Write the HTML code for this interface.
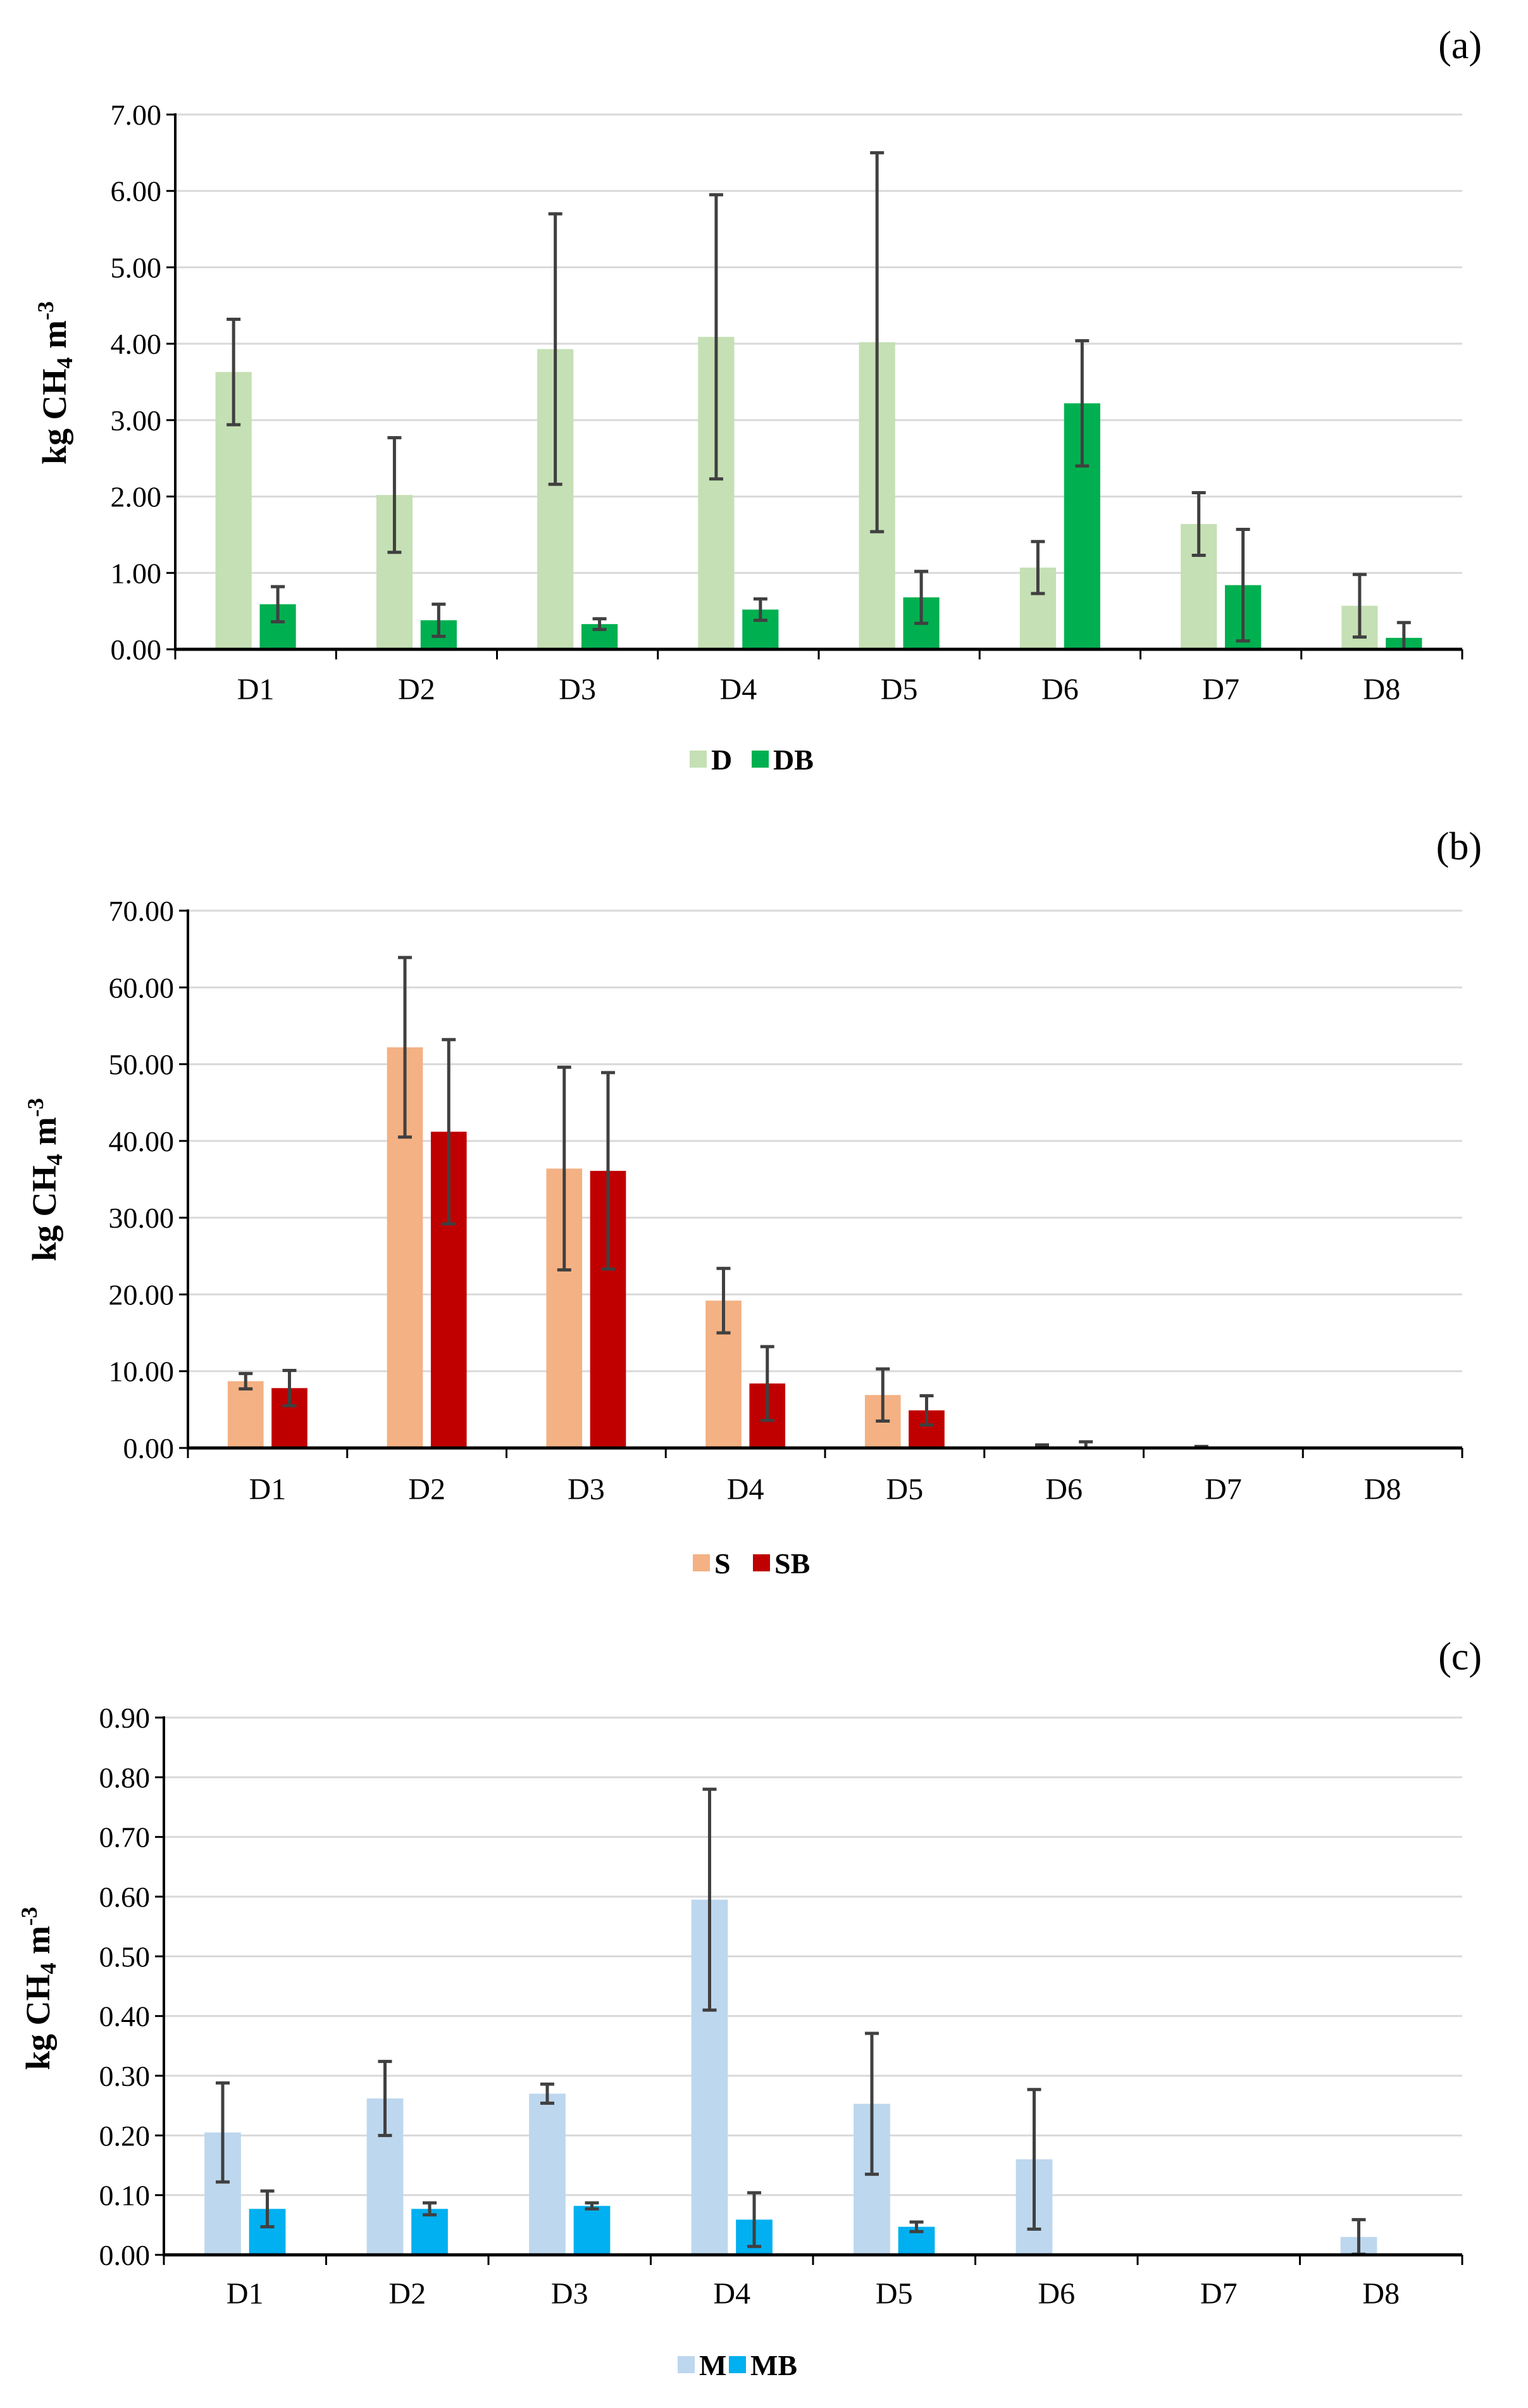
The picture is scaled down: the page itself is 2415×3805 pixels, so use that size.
<!DOCTYPE html>
<html><head><meta charset="utf-8"><style>
html,body{margin:0;padding:0;background:#fff}
svg{display:block}
text{font-family:"Liberation Serif","Times New Roman",serif;fill:#000}
</style></head><body>
<svg id="s" width="2415" height="3805" viewBox="0 0 2415 3805"></svg>
<script>
const categories=["D1","D2","D3","D4","D5","D6","D7","D8"];
const aTicks=["0.00","1.00","2.00","3.00","4.00","5.00","6.00","7.00"];
const aD=[3.63,2.02,3.93,4.09,4.02,1.07,1.64,0.57];
const aDErr=[0.69,0.75,1.77,1.86,2.48,0.34,0.41,0.41];
const aDB=[0.59,0.38,0.33,0.52,0.68,3.22,0.84,0.15];
const aDBErr=[0.23,0.21,0.07,0.14,0.34,0.82,0.73,0.20];
const bTicks=["0.00","10.00","20.00","30.00","40.00","50.00","60.00","70.00"];
const bS=[8.7,52.2,36.4,19.2,6.9,0.2,0.1,0];
const bSErr=[1.0,11.7,13.2,4.2,3.4,0.2,0.1,0];
const bSB=[7.8,41.2,36.1,8.4,4.9,0.2,0,0];
const bSBErr=[2.3,12.0,12.8,4.8,1.9,0.6,0,0];
const cTicks=["0.00","0.10","0.20","0.30","0.40","0.50","0.60","0.70","0.80","0.90"];
const cM=[0.205,0.262,0.270,0.595,0.253,0.160,0,0.030];
const cMErr=[0.083,0.062,0.016,0.185,0.118,0.117,0,0.029];
const cMB=[0.077,0.077,0.082,0.059,0.047,0,0,0];
const cMBErr=[0.030,0.010,0.005,0.045,0.008,0,0,0];

const svg=document.getElementById('s');
const NS='http://www.w3.org/2000/svg';
function mk(tag,at,txt){const e=document.createElementNS(NS,tag);for(const k in at)e.setAttribute(k,at[k]);if(txt!==undefined)e.textContent=txt;svg.appendChild(e);return e;}

function panel(p){
  const cw=(p.x1-p.x0)/categories.length;
  const maxV=parseFloat(p.ticks[p.ticks.length-1]);
  const y=v=>p.yb-(v/maxV)*(p.yb-p.yt);
  p.ticks.forEach((t,i)=>{
    const v=parseFloat(t),yy=y(v);
    if(i>0){const g=mk('line',{x1:p.x0,x2:p.x1,y1:yy,y2:yy,stroke:'#d9d9d9','stroke-width':3});
      }
    const tk=mk('line',{x1:p.x0-14,x2:p.x0,y1:yy,y2:yy,stroke:'#000','stroke-width':3});
    
    const lb=mk('text',{x:p.x0-22,y:yy+16,'text-anchor':'end','font-size':46},t);
    
  });
  const bw=cw*0.225,gap=cw*0.05;
  const series=[[p.s1,p.e1,p.c1,p.n1],[p.s2,p.e2,p.c2,p.n2]];
  categories.forEach((c,i)=>{
    const cx=p.x0+cw*(i+0.5);
    series.forEach((s,k)=>{
      const bx=k===0?cx-gap/2-bw:cx+gap/2;
      const v=s[0][i];
      if(v>0){const r=mk('rect',{x:bx,y:y(v),width:bw,height:p.yb-y(v),fill:s[2]});
        }
      const e=s[1][i];
      if(e>0){const mx=bx+bw/2,hi=y(v+e),lo=y(Math.max(0,v-e));
        const eb=mk('path',{d:`M${mx},${hi}V${lo}M${mx-11},${hi}H${mx+11}M${mx-11},${lo}H${mx+11}`,stroke:'#404040','stroke-width':5,fill:'none'});
        }
    });
    const cl=mk('text',{x:cx,y:p.cy+17,'text-anchor':'middle','font-size':48},c);
    
  });
  for(let i=0;i<=categories.length;i++){
    const xx=p.x0+cw*i;
    const t=mk('line',{x1:xx,x2:xx,y1:p.yb,y2:p.yb+16,stroke:'#000','stroke-width':3});
    
  }
  const ya=mk('line',{x1:p.x0,x2:p.x0,y1:p.yt-2,y2:p.yb+2,stroke:'#000','stroke-width':4});
  
  const xa=mk('line',{x1:p.x0-2,x2:p.x1,y1:p.yb,y2:p.yb,stroke:'#000','stroke-width':5});
  
  const tt=mk('text',{transform:`translate(${p.tx},${p.ty}) rotate(-90)`,'text-anchor':'middle','font-size':54,'font-weight':'bold'});
  
  tt.innerHTML='kg CH<tspan font-size="36" dy="10">4</tspan><tspan dy="-10"> m</tspan><tspan font-size="36" dy="-20">-3</tspan>';
  const pl=mk('text',{x:2342,y:p.ly,'text-anchor':'end','font-size':62},p.label);
  
  [[p.lx1,p.c1,p.n1],[p.lx2,p.c2,p.n2]].forEach(l=>{
    const sq=mk('rect',{x:l[0],y:p.lgy-14,width:27,height:27,fill:l[1]});
    
    const lt=mk('text',{x:l[0]+34,y:p.lgy+16,'font-size':46,'font-weight':'bold'},l[2]);
    
  });
}
panel({x0:277,x1:2311,yt:181,yb:1026,ticks:aTicks,s1:aD,e1:aDErr,c1:'#c5e0b4',n1:'D',s2:aDB,e2:aDBErr,c2:'#00b050',n2:'DB',cy:1088,tx:104,ty:605,label:'(a)',ly:92,lgy:1200,lx1:1090,lx2:1188});
panel({x0:297,x1:2311,yt:1439,yb:2288,ticks:bTicks,s1:bS,e1:bSErr,c1:'#f4b183',n1:'S',s2:bSB,e2:bSBErr,c2:'#c00000',n2:'SB',cy:2352,tx:88,ty:1864,label:'(b)',ly:1358,lgy:2470,lx1:1095,lx2:1190});
panel({x0:259,x1:2311,yt:2714,yb:3563,ticks:cTicks,s1:cM,e1:cMErr,c1:'#bdd7ee',n1:'M',s2:cMB,e2:cMBErr,c2:'#00b0f0',n2:'MB',cy:3623,tx:78,ty:3142,label:'(c)',ly:2638,lgy:3737,lx1:1071,lx2:1152})
</script>
</body></html>
